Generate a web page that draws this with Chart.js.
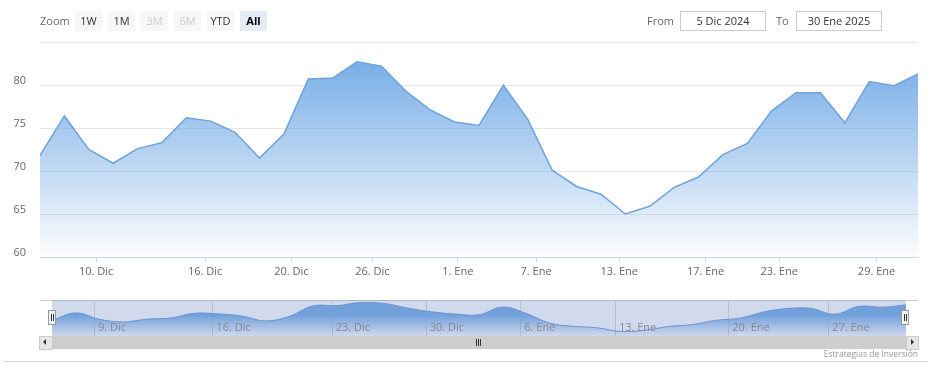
<!DOCTYPE html>
<html>
<head>
<meta charset="utf-8">
<script src="https://cdn.jsdelivr.net/npm/chart.js@4.4.1/dist/chart.umd.min.js"></script>
<style>
  body { margin: 0; background: #fff; font-family: "Open Sans", sans-serif; }
  #wrap { position: relative; width: 931px; height: 377px; overflow: hidden; }
  .abs { position: absolute; }
  .lbl { font-size: 11px; color: #666; line-height: 20px; top: 11px; }
  .btn { top: 11px; width: 27px; height: 20px; line-height: 20px; text-align: center;
         font-size: 11px; color: #333; background: #f7f7f7; }
  .btn.off { color: #ccc; }
  .btn.sel { background: #e6ebf5; color: #000; font-weight: bold; }
  .box { top: 11px; width: 84px; height: 18px; line-height: 18px; border: 1px solid #ccc;
         text-align: center; font-size: 11px; color: #333; }
  .handle { width: 6px; height: 13px; background: #f2f2f2; border: 1px solid #999; top: 310px; }
  .handle i { position: absolute; top: 3px; width: 1px; height: 7px; background: #333; }
</style>
</head>
<body>
<div id="wrap">
  <canvas id="mainChart" class="abs" style="left:0;top:0;width:931px;height:290px"></canvas>

  <div class="abs lbl" style="left:40px">Zoom</div>
  <div class="abs btn" style="left:75px">1W</div>
  <div class="abs btn" style="left:108px">1M</div>
  <div class="abs btn off" style="left:141px">3M</div>
  <div class="abs btn off" style="left:174px">6M</div>
  <div class="abs btn" style="left:207px">YTD</div>
  <div class="abs btn sel" style="left:240px">All</div>

  <div class="abs lbl" style="left:647px">From</div>
  <div class="abs box" style="left:680px">5 Dic 2024</div>
  <div class="abs lbl" style="left:776px">To</div>
  <div class="abs box" style="left:796px">30 Ene 2025</div>

  <div class="abs" style="left:40px;top:300px;width:878px;height:1px;background:#ccc"></div>
  <canvas id="navChart" class="abs" style="left:52px;top:300px;width:854px;height:36px"></canvas>
  <div class="abs handle" style="left:48px"><i style="left:2px"></i><i style="left:4px"></i></div>
  <div class="abs handle" style="left:901px"><i style="left:2px"></i><i style="left:4px"></i></div>

  <!-- scrollbar -->
  <div class="abs" style="left:39px;top:336px;width:879px;height:13px;background:#cdcdcd"></div>
  <div class="abs" style="left:39px;top:336px;width:12px;height:12px;background:#e6e6e6;border:1px solid #ccc;box-sizing:content-box"></div>
  <div class="abs" style="left:43px;top:339px;width:0;height:0;border-top:3px solid transparent;border-bottom:3px solid transparent;border-right:3px solid #333"></div>
  <div class="abs" style="left:906px;top:336px;width:11px;height:12px;background:#e6e6e6;border:1px solid #ccc"></div>
  <div class="abs" style="left:911px;top:339px;width:0;height:0;border-top:3px solid transparent;border-bottom:3px solid transparent;border-left:3px solid #333"></div>
  <div class="abs" style="left:476px;top:339px;width:1px;height:7px;background:#333"></div>
  <div class="abs" style="left:478px;top:339px;width:1px;height:7px;background:#333"></div>
  <div class="abs" style="left:480px;top:339px;width:1px;height:7px;background:#333"></div>

  <div class="abs" style="right:13px;top:348px;font-size:8.5px;color:#999">Estrategias de Inversión</div>
  <div class="abs" style="left:3px;top:361px;width:925px;height:1px;background:#d9d9d9"></div>
</div>

<script>
// trading days shown (5 Dic 2024 - 30 Ene 2025)
const dates = ['5 Dic','6 Dic','9 Dic','10 Dic','11 Dic','12 Dic','13 Dic','16 Dic','17 Dic','18 Dic',
  '19 Dic','20 Dic','23 Dic','24 Dic','26 Dic','27 Dic','30 Dic','2 Ene','3 Ene','7 Ene',
  '8 Ene','9 Ene','10 Ene','13 Ene','14 Ene','15 Ene','16 Ene','17 Ene','20 Ene','21 Ene',
  '22 Ene','23 Ene','24 Ene','27 Ene','28 Ene','29 Ene','30 Ene'];
const prices = [71.8, 76.4, 72.5, 70.9, 72.6, 73.3, 76.2, 75.8, 74.5, 71.5,
  74.3, 80.7, 80.8, 82.7, 82.2, 79.3, 77.1, 75.7, 75.3, 80.0,
  76.0, 70.1, 68.2, 67.3, 65.0, 65.9, 68.1, 69.3, 71.9, 73.2,
  77.0, 79.1, 79.1, 75.6, 80.4, 79.9, 81.3];

// x-axis ticks (ordinal axis, positions in point-index units)
const tickPos = [2.30, 6.77, 10.31, 13.63, 17.13, 20.34, 23.75, 27.29, 30.31, 34.30];
const tickLabels = ['10. Dic','16. Dic','20. Dic','26. Dic','1. Ene','7. Ene','13. Ene','17. Ene','23. Ene','29. Ene'];
const navTickPos = [1.77, 6.76, 11.79, 15.75, 19.74, 23.73, 28.51, 32.72];
const navTickLabels = ['9. Dic','16. Dic','23. Dic','30. Dic','6. Ene','13. Ene','20. Ene','27. Ene'];

const points = prices.map((v, i) => ({x: i, y: v}));
const FONT = '"Open Sans", sans-serif';

function areaFill(context){
  const chart = context.chart;
  const a = chart.chartArea;
  if (!a) return 'rgba(124,178,233,0.5)';
  const g = chart.ctx.createLinearGradient(0, a.top + 15, 0, a.bottom);
  g.addColorStop(0, 'rgba(118,172,230,1)');
  g.addColorStop(1, 'rgba(118,172,230,0.02)');
  return g;
}

new Chart(document.getElementById('mainChart'), {
  type: 'line',
  data: {
    datasets: [{
      label: 'Precio',
      data: points,
      borderColor: '#6fa3dc',
      borderWidth: 1.5,
      backgroundColor: areaFill,
      fill: 'start',
      tension: 0,
      pointRadius: 0,
      pointHoverRadius: 4
    }]
  },
  options: {
    responsive: false,
    animation: false,
    layout: { padding: { top: 42, right: 13, left: 0, bottom: 0 } },
    plugins: { legend: { display: false }, tooltip: { mode: 'index', intersect: false,
      callbacks: { title: items => dates[items[0].dataIndex] } } },
    scales: {
      x: {
        type: 'linear', min: 0, max: prices.length - 1,
        afterBuildTicks: s => { s.ticks = tickPos.map(v => ({value: v})); },
        afterFit: s => { s.height = 33; },
        ticks: { callback: (v, i) => tickLabels[i], color: '#666', font: {family: FONT, size: 11},
                 maxRotation: 0, autoSkip: false, padding: 3 },
        grid: { drawOnChartArea: false, drawTicks: true, tickLength: 5, color: '#ccd6eb' },
        border: { color: '#ccd6eb' }
      },
      y: {
        min: 60, max: 85,
        afterFit: s => { s.width = 40; },
        ticks: { stepSize: 5, padding: 14, labelOffset: -4, color: '#666', font: {family: FONT, size: 11},
                 callback: v => v === 85 ? '' : v },
        grid: { color: '#e6e6e6', drawTicks: false },
        border: { display: false }
      }
    }
  }
});

const navDecor = {
  id: 'navDecor',
  beforeDatasetsDraw(chart){
    const c = chart.ctx, a = chart.chartArea, xs = chart.scales.x;
    c.save();
    c.strokeStyle = '#d9d9d9';
    c.lineWidth = 1;
    navTickPos.forEach(v => {
      const x = Math.round(xs.getPixelForValue(v)) + 0.5;
      c.beginPath(); c.moveTo(x, a.top); c.lineTo(x, a.bottom); c.stroke();
    });
    c.restore();
  },
  afterDatasetsDraw(chart){
    const c = chart.ctx, a = chart.chartArea, xs = chart.scales.x;
    c.save();
    c.fillStyle = 'rgba(102,133,194,0.3)';
    c.fillRect(a.left, a.top, a.right - a.left, a.bottom - a.top);
    c.fillStyle = '#888';
    c.font = '11px ' + FONT;
    c.textBaseline = 'middle';
    navTickPos.forEach((v, i) => {
      c.fillText(navTickLabels[i], xs.getPixelForValue(v) + 4, a.top + 28);
    });
    c.restore();
  }
};

new Chart(document.getElementById('navChart'), {
  type: 'line',
  data: {
    datasets: [{
      data: points,
      borderColor: '#6a9bd6',
      borderWidth: 1,
      backgroundColor: areaFill,
      fill: 'start',
      tension: 0.4,
      pointRadius: 0
    }]
  },
  options: {
    responsive: false,
    animation: false,
    events: [],
    layout: { padding: 0 },
    plugins: { legend: { display: false }, tooltip: { enabled: false } },
    scales: {
      x: { type: 'linear', min: 0, max: prices.length - 1, display: false },
      y: { min: 62.3, max: 84.3, display: false }
    }
  },
  plugins: [navDecor]
});
</script>
</body>
</html>
